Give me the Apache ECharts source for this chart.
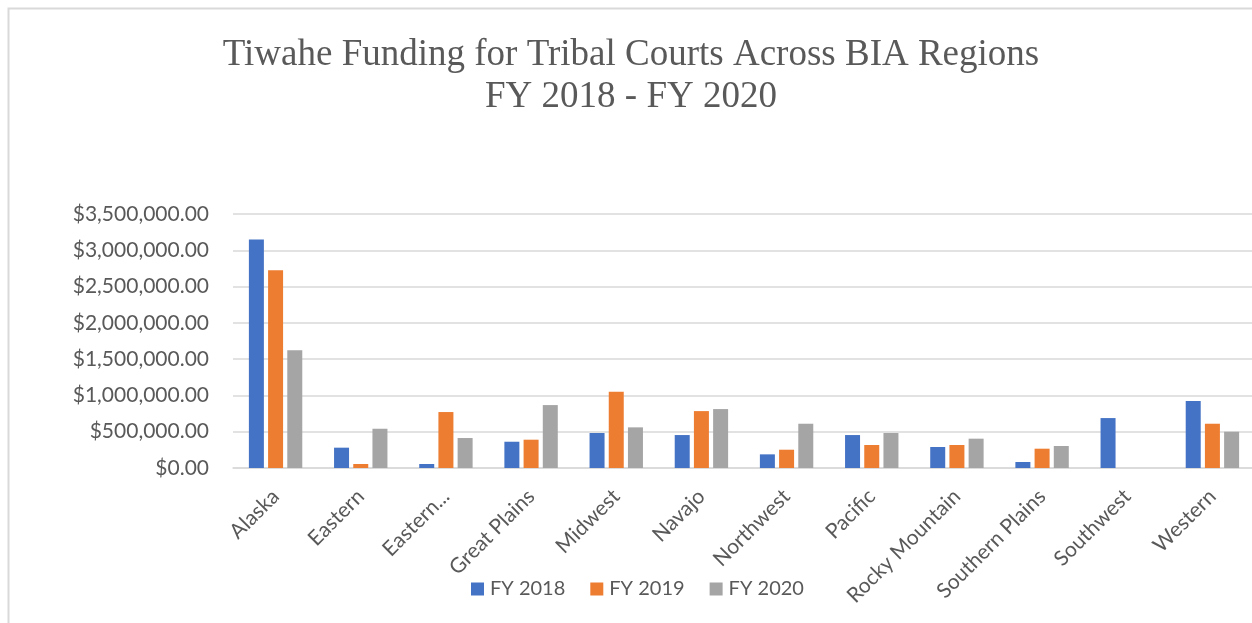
<!DOCTYPE html>
<html>
<head>
<meta charset="utf-8">
<script src="https://cdn.jsdelivr.net/npm/echarts@6/dist/echarts.min.js"></script>
<style>
html,body{margin:0;padding:0;background:#fff;overflow:hidden;}
#chart{width:1262px;height:623px;}
</style>
</head>
<body>
<div id="chart"></div>
<script>
const categories = ['Alaska','Eastern','Eastern...','Great Plains','Midwest','Navajo','Northwest','Pacific','Rocky Mountain','Southern Plains','Southwest','Western'];
const fy2018 = [3150000, 280000, 55000, 362000, 482000, 454000, 188000, 454000, 289000, 83000, 688000, 922000];
const fy2019 = [2725000, 55000, 771000, 390000, 1050000, 784000, 252000, 317000, 317000, 266000, 0, 610000];
const fy2020 = [1624000, 541000, 413000, 867000, 560000, 812000, 610000, 482000, 404000, 303000, 0, 500000];
const seriesNames = ['FY 2018','FY 2019','FY 2020'];
const titleLines = ['Tiwahe Funding for Tribal Courts Across BIA Regions','FY 2018 - FY 2020'];

const chart = echarts.init(document.getElementById('chart'), null, {renderer:'canvas'});
const font = 'Lato, "Open Sans", sans-serif';
const txt = '#595959';
function money(v){
  return '$' + Number(v).toLocaleString('en-US',{minimumFractionDigits:2, maximumFractionDigits:2});
}
const option = {
  backgroundColor:'#fff',
  animation:false,
  color:['#4472C4','#ED7D31','#A5A5A5'],
  title:{
    text: titleLines.join('\n'),
    left:'center',
    top:29,
    textStyle:{fontFamily:'"Liberation Serif","Times New Roman",serif',fontSize:37,fontWeight:'normal',color:txt,lineHeight:42}
  },
  graphic:[{
    type:'rect', left:6, top:6, silent:true,
    shape:{x:0,y:0,width:1400,height:800},
    style:{fill:null, stroke:'#d9d9d9', lineWidth:2}
  }],
  legend:{
    data:seriesNames,
    left:466, top:574,
    itemWidth:13, itemHeight:13, itemGap:25,
    icon:'rect',
    textStyle:{fontFamily:font,fontSize:20,color:txt,padding:[0,0,0,1]}
  },
  grid:{left:233, right:7, top:214, bottom:155, containLabel:false},
  xAxis:{
    type:'category',
    data:categories,
    axisLine:{lineStyle:{color:'#d9d9d9',width:1.5}},
    axisTick:{show:false},
    axisLabel:{rotate:45, interval:0, margin:25, fontFamily:font, fontSize:21, color:txt}
  },
  yAxis:{
    type:'value',
    min:0, max:3500000, interval:500000,
    axisLine:{show:false},
    axisTick:{show:false},
    splitLine:{lineStyle:{color:'#d9d9d9',width:1.5}},
    axisLabel:{formatter:money, margin:24, fontFamily:font, fontSize:21, color:txt}
  },
  series:[
    {name:seriesNames[0], type:'bar', data:fy2018, barWidth:15, barGap:'28%'},
    {name:seriesNames[1], type:'bar', data:fy2019, barWidth:15, barGap:'28%'},
    {name:seriesNames[2], type:'bar', data:fy2020, barWidth:15, barGap:'28%'}
  ]
};
chart.setOption(option);
</script>
</body>
</html>
